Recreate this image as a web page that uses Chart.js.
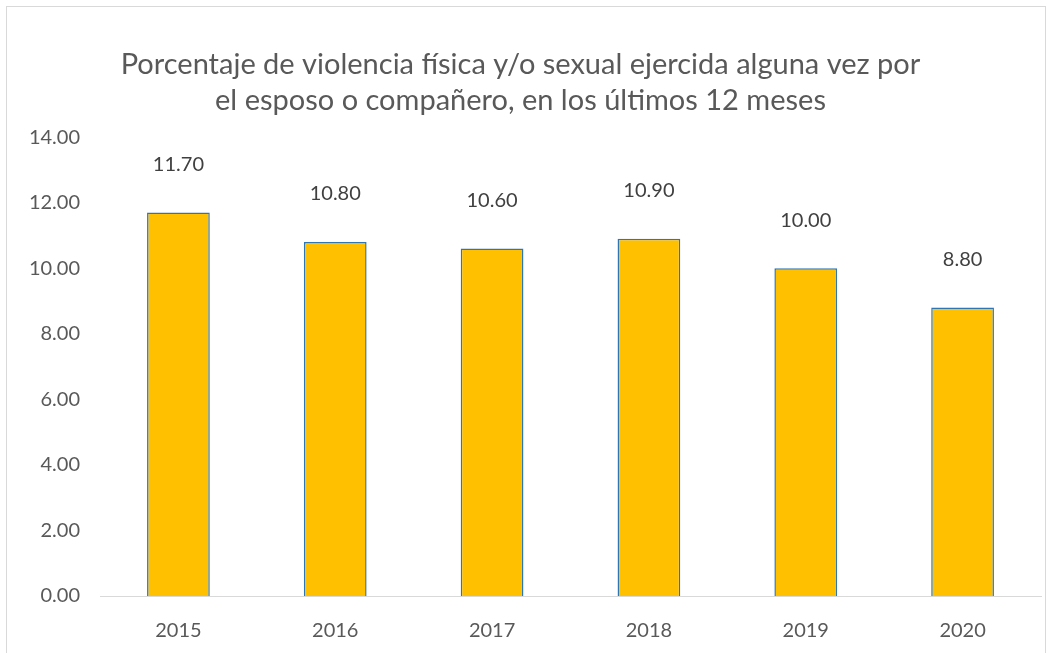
<!DOCTYPE html>
<html>
<head>
<meta charset="utf-8">
<script src="https://cdn.jsdelivr.net/npm/chart.js@4"></script>
<style>
  html, body { margin: 0; padding: 0; background: #fff; }
  .chart-ctnr { position: relative; width: 1058px; height: 653px; }
  .chart-frame {
    position: absolute; left: 6px; top: 6px; width: 1040px; height: 660px;
    border: 1px solid #d9d9d9; box-sizing: border-box; pointer-events: none;
  }
</style>
</head>
<body>
<div class="chart-ctnr">
  <canvas id="barchart" width="1058" height="653"></canvas>
  <div class="chart-frame"></div>
</div>
<script>
const years = ["2015", "2016", "2017", "2018", "2019", "2020"];
const percentages = [11.7, 10.8, 10.6, 10.9, 10.0, 8.8];
const titleLines = [
  "Porcentaje de violencia física y/o sexual ejercida alguna vez por",
  "el esposo o compañero, en los últimos 12 meses",
];

const fontName = "Lato, 'Open Sans', sans-serif";
const textGrey = "#595959";

// labels sit a bit above each bar, like the excel original
const barLabelsPlugin = {
  id: "barLabels",
  afterDatasetsDraw(chart) {
    const ctx = chart.ctx;
    const meta = chart.getDatasetMeta(0);
    ctx.save();
    ctx.font = "20px " + fontName;
    ctx.fillStyle = "#404040";
    ctx.textAlign = "center";
    ctx.textBaseline = "middle";
    meta.data.forEach((bar, i) => {
      ctx.fillText(percentages[i].toFixed(2), bar.x, bar.y - 48);
    });
    ctx.restore();
  },
};

const ctx = document.getElementById("barchart");
new Chart(ctx, {
  type: "bar",
  data: {
    labels: years,
    datasets: [
      {
        data: percentages,
        backgroundColor: "#ffc000",
        borderColor: "#2e75b6",
        borderWidth: 1.5,
        barPercentage: 0.4,
        categoryPercentage: 1,
      },
    ],
  },
  options: {
    responsive: false,
    animation: false,
    layout: { padding: { left: 0, right: 17, top: 30, bottom: 0 } },
    plugins: {
      legend: { display: false },
      tooltip: { enabled: false },
      title: {
        display: true,
        text: titleLines,
        color: textGrey,
        font: { family: fontName, size: 29, weight: "normal", lineHeight: 1.26 },
        padding: { top: 16, bottom: 18 },
      },
    },
    scales: {
      x: {
        grid: { display: false, drawTicks: false },
        border: { display: true, color: "#d9d9d9", width: 1 },
        ticks: { color: textGrey, font: { family: fontName, size: 20 }, padding: 23 },
        afterFit: (scale) => { scale.height = 57; },
      },
      y: {
        min: 0,
        max: 14,
        grid: { display: false, drawTicks: false },
        border: { display: false },
        ticks: {
          stepSize: 2,
          color: textGrey,
          font: { family: fontName, size: 20 },
          padding: 20,
          callback: (v) => v.toFixed(2),
        },
        afterFit: (scale) => { scale.width = 100; },
      },
    },
  },
  plugins: [barLabelsPlugin],
});
</script>
</body>
</html>
